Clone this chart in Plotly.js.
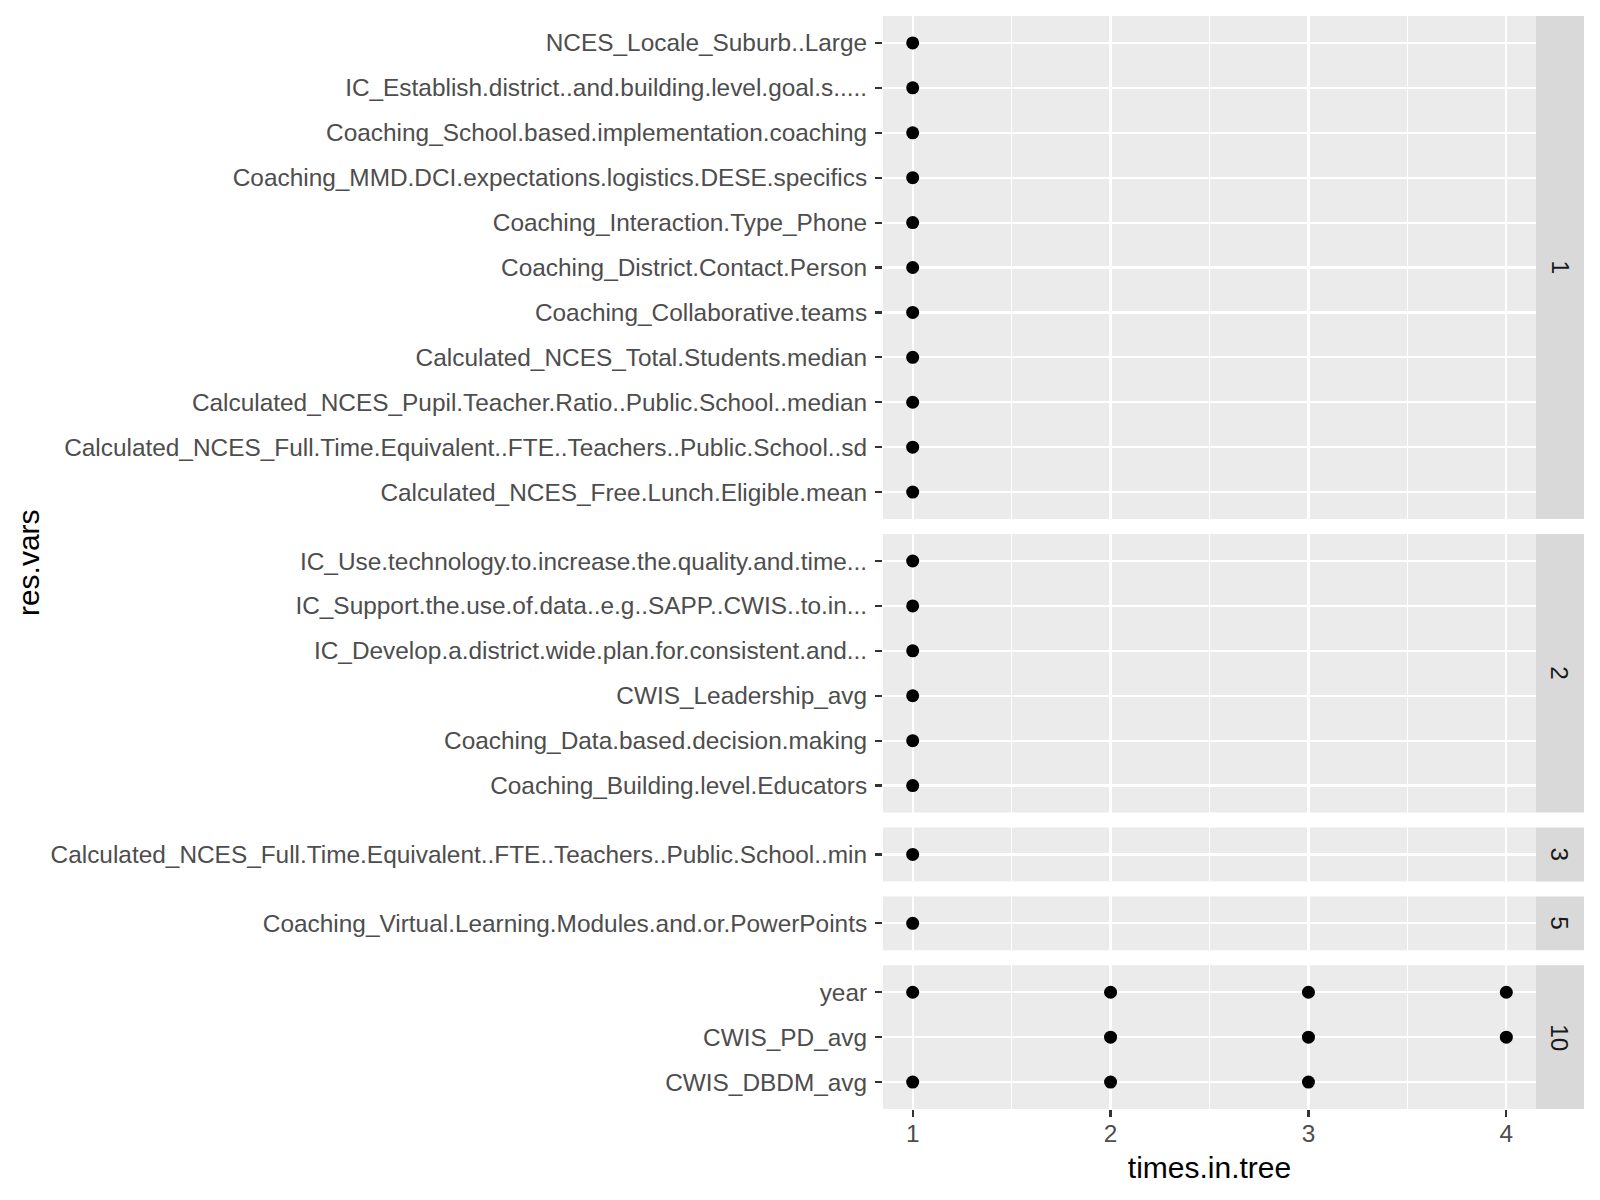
<!DOCTYPE html>
<html>
<head>
<meta charset="utf-8">
<script src="https://cdn.plot.ly/plotly-3.0.1.min.js"></script>
<style>html,body{margin:0;padding:0;background:#fff;}#chart{width:1600px;height:1200px;}</style>
</head>
<body>
<div id="chart"></div>
<script>
// ---- data (long format) ----
const facetLabels = ['1', '2', '3', '5', '10'];

const resVars = [
  'NCES_Locale_Suburb..Large',
  'IC_Establish.district..and.building.level.goal.s.....',
  'Coaching_School.based.implementation.coaching',
  'Coaching_MMD.DCI.expectations.logistics.DESE.specifics',
  'Coaching_Interaction.Type_Phone',
  'Coaching_District.Contact.Person',
  'Coaching_Collaborative.teams',
  'Calculated_NCES_Total.Students.median',
  'Calculated_NCES_Pupil.Teacher.Ratio..Public.School..median',
  'Calculated_NCES_Full.Time.Equivalent..FTE..Teachers..Public.School..sd',
  'Calculated_NCES_Free.Lunch.Eligible.mean',
  'IC_Use.technology.to.increase.the.quality.and.time...',
  'IC_Support.the.use.of.data..e.g..SAPP..CWIS..to.in...',
  'IC_Develop.a.district.wide.plan.for.consistent.and...',
  'CWIS_Leadership_avg',
  'Coaching_Data.based.decision.making',
  'Coaching_Building.level.Educators',
  'Calculated_NCES_Full.Time.Equivalent..FTE..Teachers..Public.School..min',
  'Coaching_Virtual.Learning.Modules.and.or.PowerPoints',
  'year', 'year', 'year', 'year',
  'CWIS_PD_avg', 'CWIS_PD_avg', 'CWIS_PD_avg',
  'CWIS_DBDM_avg', 'CWIS_DBDM_avg', 'CWIS_DBDM_avg'
];

const timesInTree = [
  1, 1, 1, 1, 1, 1, 1, 1, 1, 1, 1,
  1, 1, 1, 1, 1, 1,
  1,
  1,
  1, 2, 3, 4,
  2, 3, 4,
  1, 2, 3
];

const facetOf = [
  '1', '1', '1', '1', '1', '1', '1', '1', '1', '1', '1',
  '2', '2', '2', '2', '2', '2',
  '3',
  '5',
  '10', '10', '10', '10',
  '10', '10', '10',
  '10', '10', '10'
];

// tick labels, top to bottom as they appear on the y axis
const yOrder = [
  'NCES_Locale_Suburb..Large',
  'IC_Establish.district..and.building.level.goal.s.....',
  'Coaching_School.based.implementation.coaching',
  'Coaching_MMD.DCI.expectations.logistics.DESE.specifics',
  'Coaching_Interaction.Type_Phone',
  'Coaching_District.Contact.Person',
  'Coaching_Collaborative.teams',
  'Calculated_NCES_Total.Students.median',
  'Calculated_NCES_Pupil.Teacher.Ratio..Public.School..median',
  'Calculated_NCES_Full.Time.Equivalent..FTE..Teachers..Public.School..sd',
  'Calculated_NCES_Free.Lunch.Eligible.mean',
  'IC_Use.technology.to.increase.the.quality.and.time...',
  'IC_Support.the.use.of.data..e.g..SAPP..CWIS..to.in...',
  'IC_Develop.a.district.wide.plan.for.consistent.and...',
  'CWIS_Leadership_avg',
  'Coaching_Data.based.decision.making',
  'Coaching_Building.level.Educators',
  'Calculated_NCES_Full.Time.Equivalent..FTE..Teachers..Public.School..min',
  'Coaching_Virtual.Learning.Modules.and.or.PowerPoints',
  'year',
  'CWIS_PD_avg',
  'CWIS_DBDM_avg'
];

const xTickVals = [1, 2, 3, 4];

// ---- layout geometry (pixels) ----
const W = 1600, H = 1200;
const mL = 883, mR = 16, mT = 15.5, mB = 90.7;
const panelRight = 1536;
const plotW = W - mL - mR;
const plotH = H - mT - mB;
const gap = 15;
const xDomEnd = (panelRight - mL) / plotW;

const FONT = 'Liberation Sans, Arial, Helvetica, sans-serif';
const tickFont = {family: FONT, size: 24.4, color: '#4D4D4D'};

const panels = facetLabels.map(f => {
  const cats = yOrder.filter(v => facetOf.some((ff, i) => ff === f && resVars[i] === v));
  return {label: f, cats: cats.slice().reverse()};
});
const units = panels.reduce((a, p) => a + p.cats.length + 0.2, 0);
const rowPx = (plotH - gap * (panels.length - 1)) / units;

const traces = [];
const layout = {
  width: W, height: H,
  margin: {l: mL, r: mR, t: mT, b: mB, pad: 0},
  paper_bgcolor: '#FFFFFF',
  plot_bgcolor: '#EBEBEB',
  showlegend: false,
  font: {family: FONT},
  shapes: [],
  annotations: []
};

let topPx = 0;
panels.forEach((p, k) => {
  const idx = k + 1;
  const sfx = idx === 1 ? '' : String(idx);
  const hPx = (p.cats.length + 0.2) * rowPx;
  const dom = [1 - (topPx + hPx) / plotH, 1 - topPx / plotH];
  topPx += hPx + gap;

  const xs = [], ys = [];
  facetOf.forEach((f, i) => {
    if (f === p.label) { xs.push(timesInTree[i]); ys.push(resVars[i]); }
  });
  traces.push({
    type: 'scatter', mode: 'markers',
    x: xs, y: ys,
    xaxis: 'x' + sfx, yaxis: 'y' + sfx,
    marker: {color: '#000000', size: 13, line: {width: 0}},
    hoverinfo: 'x+y'
  });

  const isBottom = k === panels.length - 1;
  layout['xaxis' + sfx] = {
    domain: [0, xDomEnd],
    anchor: 'y' + sfx,
    range: [0.85, 4.15],
    tickmode: 'array', tickvals: xTickVals, ticktext: xTickVals.map(String),
    showticklabels: isBottom,
    ticks: isBottom ? 'outside' : '',
    ticklen: 7, tickwidth: 2.2, tickcolor: '#333333',
    tickfont: tickFont,
    ticklabelstandoff: -4,
    showgrid: true, gridcolor: '#FFFFFF', gridwidth: 2.2,
    minor: {tickmode: 'array', tickvals: [1.5, 2.5, 3.5], showgrid: true, gridcolor: '#FFFFFF', gridwidth: 1.1, ticks: ''},
    zeroline: false, showline: false,
    fixedrange: true
  };
  if (idx !== 1) layout['xaxis' + sfx].matches = 'x';
  if (isBottom) {
    layout['xaxis' + sfx].title = {text: 'times.in.tree', font: {family: FONT, size: 30, color: '#000000'}, standoff: 10};
  }
  layout['yaxis' + sfx] = {
    domain: dom,
    anchor: 'x' + sfx,
    type: 'category',
    categoryorder: 'array', categoryarray: p.cats,
    range: [-0.6, p.cats.length - 0.4],
    tickmode: 'array', tickvals: p.cats, ticktext: p.cats,
    ticks: 'outside', ticklen: 7, tickwidth: 2.2, tickcolor: '#333333',
    tickfont: tickFont,
    ticklabelstandoff: 3,
    showgrid: true, gridcolor: '#FFFFFF', gridwidth: 2.2,
    zeroline: false, showline: false,
    fixedrange: true
  };

  // facet strip on the right
  layout.shapes.push({
    type: 'rect', xref: 'paper', yref: 'y' + sfx + ' domain',
    x0: xDomEnd, x1: 1, y0: 0, y1: 1,
    fillcolor: '#D9D9D9', line: {width: 0}, layer: 'below'
  });
  layout.annotations.push({
    text: p.label, xref: 'paper', yref: 'y' + sfx + ' domain',
    x: (xDomEnd + 1) / 2, y: 0.5, xanchor: 'center', yanchor: 'middle',
    showarrow: false, textangle: 90,
    font: {family: FONT, size: 24.4, color: '#1A1A1A'}
  });
});

// y-axis title
layout.annotations.push({
  text: 'res.vars', xref: 'paper', yref: 'paper',
  x: (28.6 - mL) / plotW, y: 0.5, xanchor: 'center', yanchor: 'middle',
  showarrow: false, textangle: -90,
  font: {family: FONT, size: 30, color: '#000000'}
});

Plotly.newPlot('chart', traces, layout, {staticPlot: true, displayModeBar: false});
</script>
</body>
</html>
